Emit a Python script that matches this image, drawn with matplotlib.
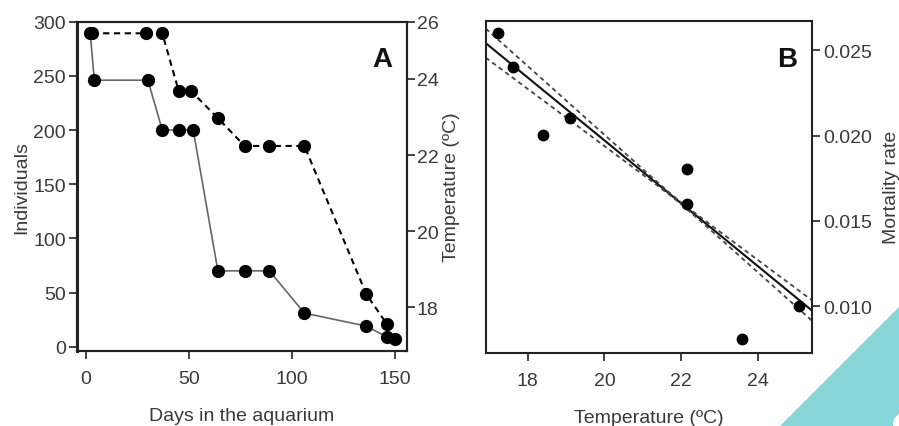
import numpy as np
import matplotlib
matplotlib.use("Agg")
import matplotlib.pyplot as plt
from matplotlib.patches import Polygon, Circle

plt.rcParams['font.family'] = ['Liberation Sans', 'DejaVu Sans']

# ---- Panel A data ----
days_ind = [2, 4, 30, 37, 45, 52, 64, 77, 89, 106, 136, 146, 150]
individuals = [290, 246, 246, 200, 200, 200, 70, 70, 70, 31, 19, 9, 7]
days_temp = [3, 29, 37, 45, 51, 64, 77, 89, 106, 136, 146]
temperature = [25.2, 25.2, 25.2, 23.68, 23.68, 22.97, 22.24, 22.24, 22.24, 18.35, 17.56]
a_xticks = [0, 50, 100, 150]
a_yticks = [0, 50, 100, 150, 200, 250, 300]
a_rticks = [18, 20, 22, 24, 25.5]
a_rticklabels = ["18", "20", "22", "24", "26"]

# ---- Panel B data ----
temp_b = [17.22, 17.61, 18.41, 19.10, 22.16, 22.16, 23.59, 25.07]
mortality = [0.02598, 0.02402, 0.02004, 0.02100, 0.01803, 0.01598, 0.00809, 0.01004]
fit_x = [16.91, 25.41]
fit_y = [0.02541, 0.00974]
band_center = 21.9
band_h0 = 0.00005
band_k = 0.00017
b_xticks = [18, 20, 22, 24]
b_yticks = [0.010, 0.015, 0.020, 0.025]

W, H = 899, 427
fig = plt.figure(figsize=(W / 100, H / 100), dpi=100)

def frac(l, t, r, b):
    return [l / W, 1 - b / H, (r - l) / W, (b - t) / H]

spine_c = "#222222"
txt_c = "#3a3a3a"
tick_fs = 14
lab_fs = 14

# ---- Panel A ----
axA = fig.add_axes(frac(77, 22.7, 407, 351.7))
axA.plot(days_ind, individuals, color="#666666", lw=1.2, marker="o", ms=8.5,
         mfc="black", mec="black", zorder=3)
axA.set_xlim(-4.4, 155.8)
axA.set_ylim(-3.7, 300)
axA.set_xticks(a_xticks)
axA.set_yticks(a_yticks)
axA.tick_params(axis="both", direction="out", length=6, width=1.2, labelsize=tick_fs,
                colors=spine_c, labelcolor=txt_c)
axA.tick_params(axis="x", pad=8)
axA.tick_params(axis="y", pad=2)
axA.set_xlabel("Days in the aquarium", fontsize=lab_fs, color=txt_c, labelpad=14)
axA.set_ylabel("Individuals", fontsize=lab_fs, color=txt_c, labelpad=2)
for s in axA.spines.values():
    s.set_linewidth(1.5)
    s.set_color(spine_c)
axA.spines["left"].set_linewidth(2.2)

axT = axA.twinx()
axT.plot(days_temp, temperature, color="black", lw=1.5, ls=(0, (3, 2.2)), marker="o", ms=8.5,
         mfc="black", mec="black", zorder=3)
axT.set_ylim(16.86, 25.505)
axT.set_yticks(a_rticks)
axT.set_yticklabels(a_rticklabels)
axT.tick_params(direction="out", length=6, width=1.2, labelsize=tick_fs, colors=spine_c,
                labelcolor=txt_c, pad=1)
axT.set_ylabel("Temperature (ºC)", fontsize=lab_fs, color=txt_c, labelpad=3)
for s in axT.spines.values():
    s.set_linewidth(1.5)
    s.set_color(spine_c)
axA.text(0.955, 0.925, "A", transform=axA.transAxes, ha="right", va="top",
         fontsize=20, fontweight="bold", color="#111111")

# ---- Panel B ----
axB = fig.add_axes(frac(485.7, 21.7, 812.3, 354))
xs = np.linspace(fit_x[0], fit_x[1], 200)
slope = (fit_y[1] - fit_y[0]) / (fit_x[1] - fit_x[0])
ys = fit_y[0] + slope * (xs - fit_x[0])
hw = np.sqrt(band_h0 ** 2 + (band_k * (xs - band_center)) ** 2)
axB.plot(xs, ys, color="#111111", lw=1.5, zorder=2)
axB.plot(xs, ys + hw, color="#444444", lw=1.3, ls=(0, (2.5, 2)), zorder=2)
axB.plot(xs, ys - hw, color="#444444", lw=1.3, ls=(0, (2.5, 2)), zorder=2)
axB.plot(temp_b, mortality, ls="none", marker="o", ms=7.5, mfc="black", mec="black", zorder=3)
axB.set_xlim(16.91, 25.41)
axB.set_ylim(0.00727, 0.02672)
axB.set_xticks(b_xticks)
axB.set_yticks(b_yticks)
axB.yaxis.tick_right()
axB.yaxis.set_label_position("right")
axB.set_yticklabels(["%.3f" % v for v in b_yticks])
axB.tick_params(axis="both", direction="out", length=6, width=1.2, labelsize=tick_fs,
                colors=spine_c, labelcolor=txt_c)
axB.tick_params(axis="x", pad=8)
axB.tick_params(axis="y", pad=2)
axB.set_xlabel("Temperature (ºC)", fontsize=lab_fs, color=txt_c, labelpad=14)
axB.set_ylabel("Mortality rate", fontsize=lab_fs, color=txt_c, labelpad=8)
for s in axB.spines.values():
    s.set_linewidth(1.5)
    s.set_color(spine_c)
axB.text(0.955, 0.925, "B", transform=axB.transAxes, ha="right", va="top",
         fontsize=20, fontweight="bold", color="#111111")

# ---- decorative teal corner ----
teal = Polygon([[780 / W, 0], [W / W, 0], [W / W, 1 - 308 / H]], closed=True,
               transform=fig.transFigure, facecolor="#86d6da", edgecolor="none", zorder=0)
fig.patches.append(teal)
circ = Circle((935 / W, 1 - 425 / H), 42 / W, transform=fig.transFigure,
              facecolor="white", edgecolor="none", zorder=0.5)
fig.patches.append(circ)

fig.savefig("out.png", dpi=100)
